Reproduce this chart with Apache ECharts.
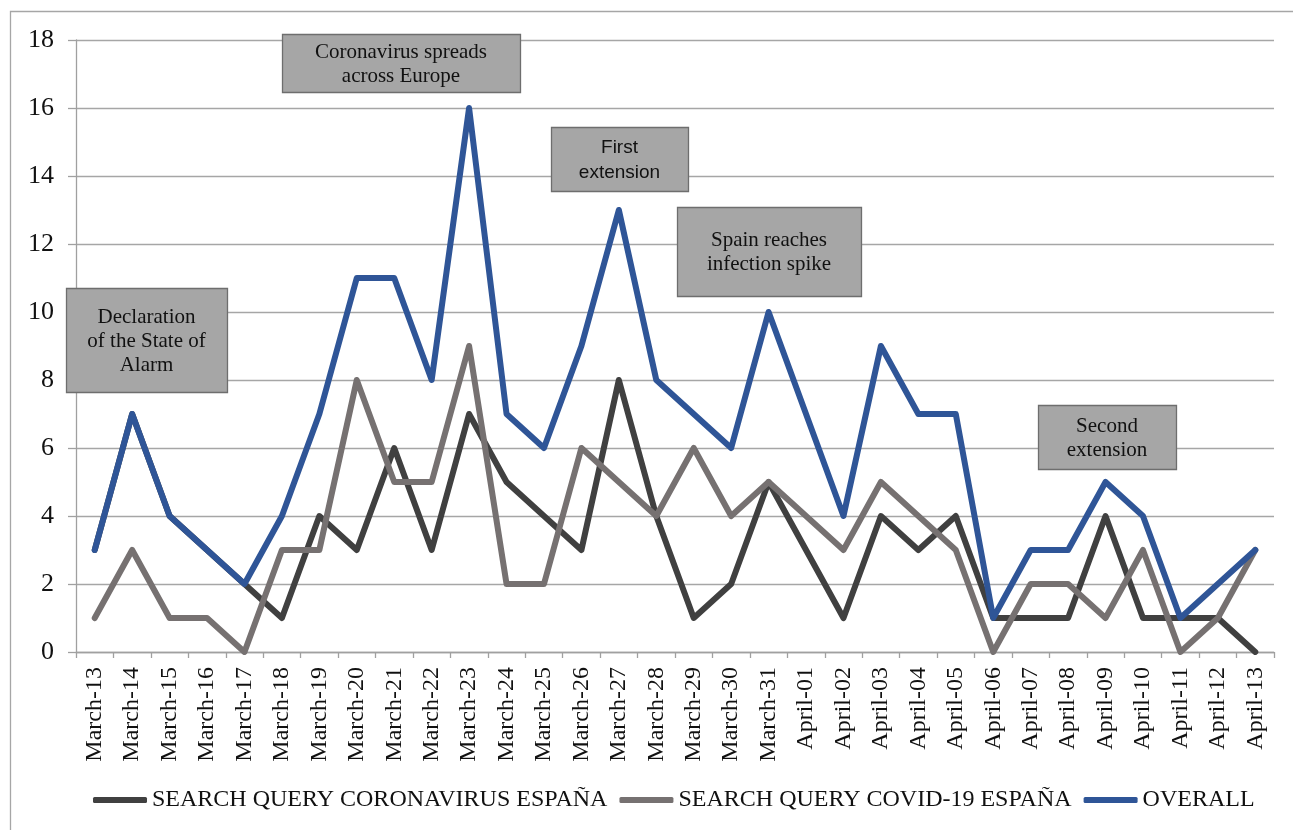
<!DOCTYPE html>
<html>
<head>
<meta charset="utf-8">
<script src="https://cdn.jsdelivr.net/npm/echarts@6/dist/echarts.min.js"></script>
<style>
  html, body { margin: 0; padding: 0; background: #fff; }
  #chart { width: 1293px; height: 830px; }
</style>
</head>
<body>
<div id="chart"></div>
<script>
// Daily search counts, 13 March – 13 April
const days = [
  'March-13','March-14','March-15','March-16','March-17','March-18','March-19','March-20',
  'March-21','March-22','March-23','March-24','March-25','March-26','March-27','March-28',
  'March-29','March-30','March-31','April-01','April-02','April-03','April-04','April-05',
  'April-06','April-07','April-08','April-09','April-10','April-11','April-12','April-13'
];
const coronavirusEspana = [3,7,4,3,2,1,4,3,6,3,7,5,4,3,8,4,1,2,5,3,1,4,3,4,1,1,1,4,1,1,1,0];
const covidEspana       = [1,3,1,1,0,3,3,8,5,5,9,2,2,6,5,4,6,4,5,4,3,5,4,3,0,2,2,1,3,0,1,3];
const overall           = [3,7,4,3,2,4,7,11,11,8,16,7,6,9,13,8,7,6,10,7,4,9,7,7,1,3,3,5,4,1,2,3];
const seriesNames = ['SEARCH QUERY CORONAVIRUS ESPAÑA', 'SEARCH QUERY COVID-19 ESPAÑA', 'OVERALL'];
const yTicks = [0, 2, 4, 6, 8, 10, 12, 14, 16, 18];

// Event call-outs drawn over the plot
const events = [
  { text: 'Declaration\nof the State of\nAlarm', box: [66, 288, 161, 104], font: 'serif' },
  { text: 'Coronavirus spreads\nacross Europe', box: [282, 34, 238, 58], font: 'serif' },
  { text: 'First\nextension', box: [551, 127, 137, 64], font: 'sans' },
  { text: 'Spain reaches\ninfection spike', box: [677, 207, 184, 89], font: 'serif' },
  { text: 'Second\nextension', box: [1038, 405, 138, 64], font: 'serif' }
];

const SERIF = '"Liberation Serif", "DejaVu Serif", "Times New Roman", serif';
const SANS = '"Liberation Sans", "Open Sans", Arial, sans-serif';
const colors = ['#404040', '#767171', '#2F5597'];

const chart = echarts.init(document.getElementById('chart'), null, { renderer: 'canvas' });

const graphics = [
  {
    type: 'rect', z: -1, silent: true,
    shape: { x: 10.5, y: 11.5, width: 1300, height: 840 },
    style: { fill: 'none', stroke: '#a6a6a6', lineWidth: 1.3 }
  }
];
events.forEach(ev => {
  const [x, y, w, h] = ev.box;
  graphics.push({
    type: 'rect', z: 100, silent: true,
    shape: { x: x + 0.5, y: y + 0.5, width: w, height: h },
    style: { fill: '#a6a6a6', stroke: '#6e6e6e', lineWidth: 1.3 }
  });
  graphics.push({
    type: 'text', z: 101, silent: true,
    x: x + w / 2, y: y + h / 2 + 1,
    style: {
      text: ev.text,
      fill: '#111',
      font: (ev.font === 'sans' ? '19px ' + SANS : '21px ' + SERIF),
      align: 'center', verticalAlign: 'middle',
      lineHeight: ev.font === 'sans' ? 25 : 24
    }
  });
});

const option = {
  animation: false,
  backgroundColor: '#ffffff',
  color: colors,
  grid: { left: 76, right: 19, top: 40, bottom: 178, containLabel: false },
  legend: {
    bottom: 13,
    left: 88,
    itemWidth: 54,
    itemHeight: 6,
    itemGap: 12,
    icon: 'roundRect',
    textStyle: { fontFamily: SERIF, fontSize: 24, color: '#111', padding: [0, 0, 0, 0] },
    data: seriesNames
  },
  xAxis: {
    type: 'category',
    data: days,
    boundaryGap: true,
    axisLine: { lineStyle: { color: '#a0a0a0', width: 1.3 } },
    axisTick: { show: true, length: 6, lineStyle: { color: '#a0a0a0', width: 1.3 } },
    axisLabel: {
      rotate: 90, interval: 0, margin: 15,
      fontFamily: SERIF, fontSize: 24, color: '#111'
    },
    splitLine: { show: false }
  },
  yAxis: {
    type: 'value',
    min: yTicks[0], max: yTicks[yTicks.length - 1], interval: 2,
    axisLine: { show: true, lineStyle: { color: '#a0a0a0', width: 1.3 } },
    axisTick: { show: true, length: 8, lineStyle: { color: '#a0a0a0', width: 1.3 } },
    axisLabel: { margin: 22, fontFamily: SERIF, fontSize: 26, color: '#111' },
    splitLine: { show: true, lineStyle: { color: '#a6a6a6', width: 1.3 } }
  },
  series: [
    { name: seriesNames[0], data: coronavirusEspana },
    { name: seriesNames[1], data: covidEspana },
    { name: seriesNames[2], data: overall }
  ].map((s, i) => ({
    type: 'line',
    name: s.name,
    data: s.data,
    symbol: 'none',
    z: 2 + i,
    lineStyle: { width: 6, color: colors[i], cap: 'round', join: 'round' },
    itemStyle: { color: colors[i] }
  })),
  graphic: graphics
};

chart.setOption(option);
</script>
</body>
</html>
